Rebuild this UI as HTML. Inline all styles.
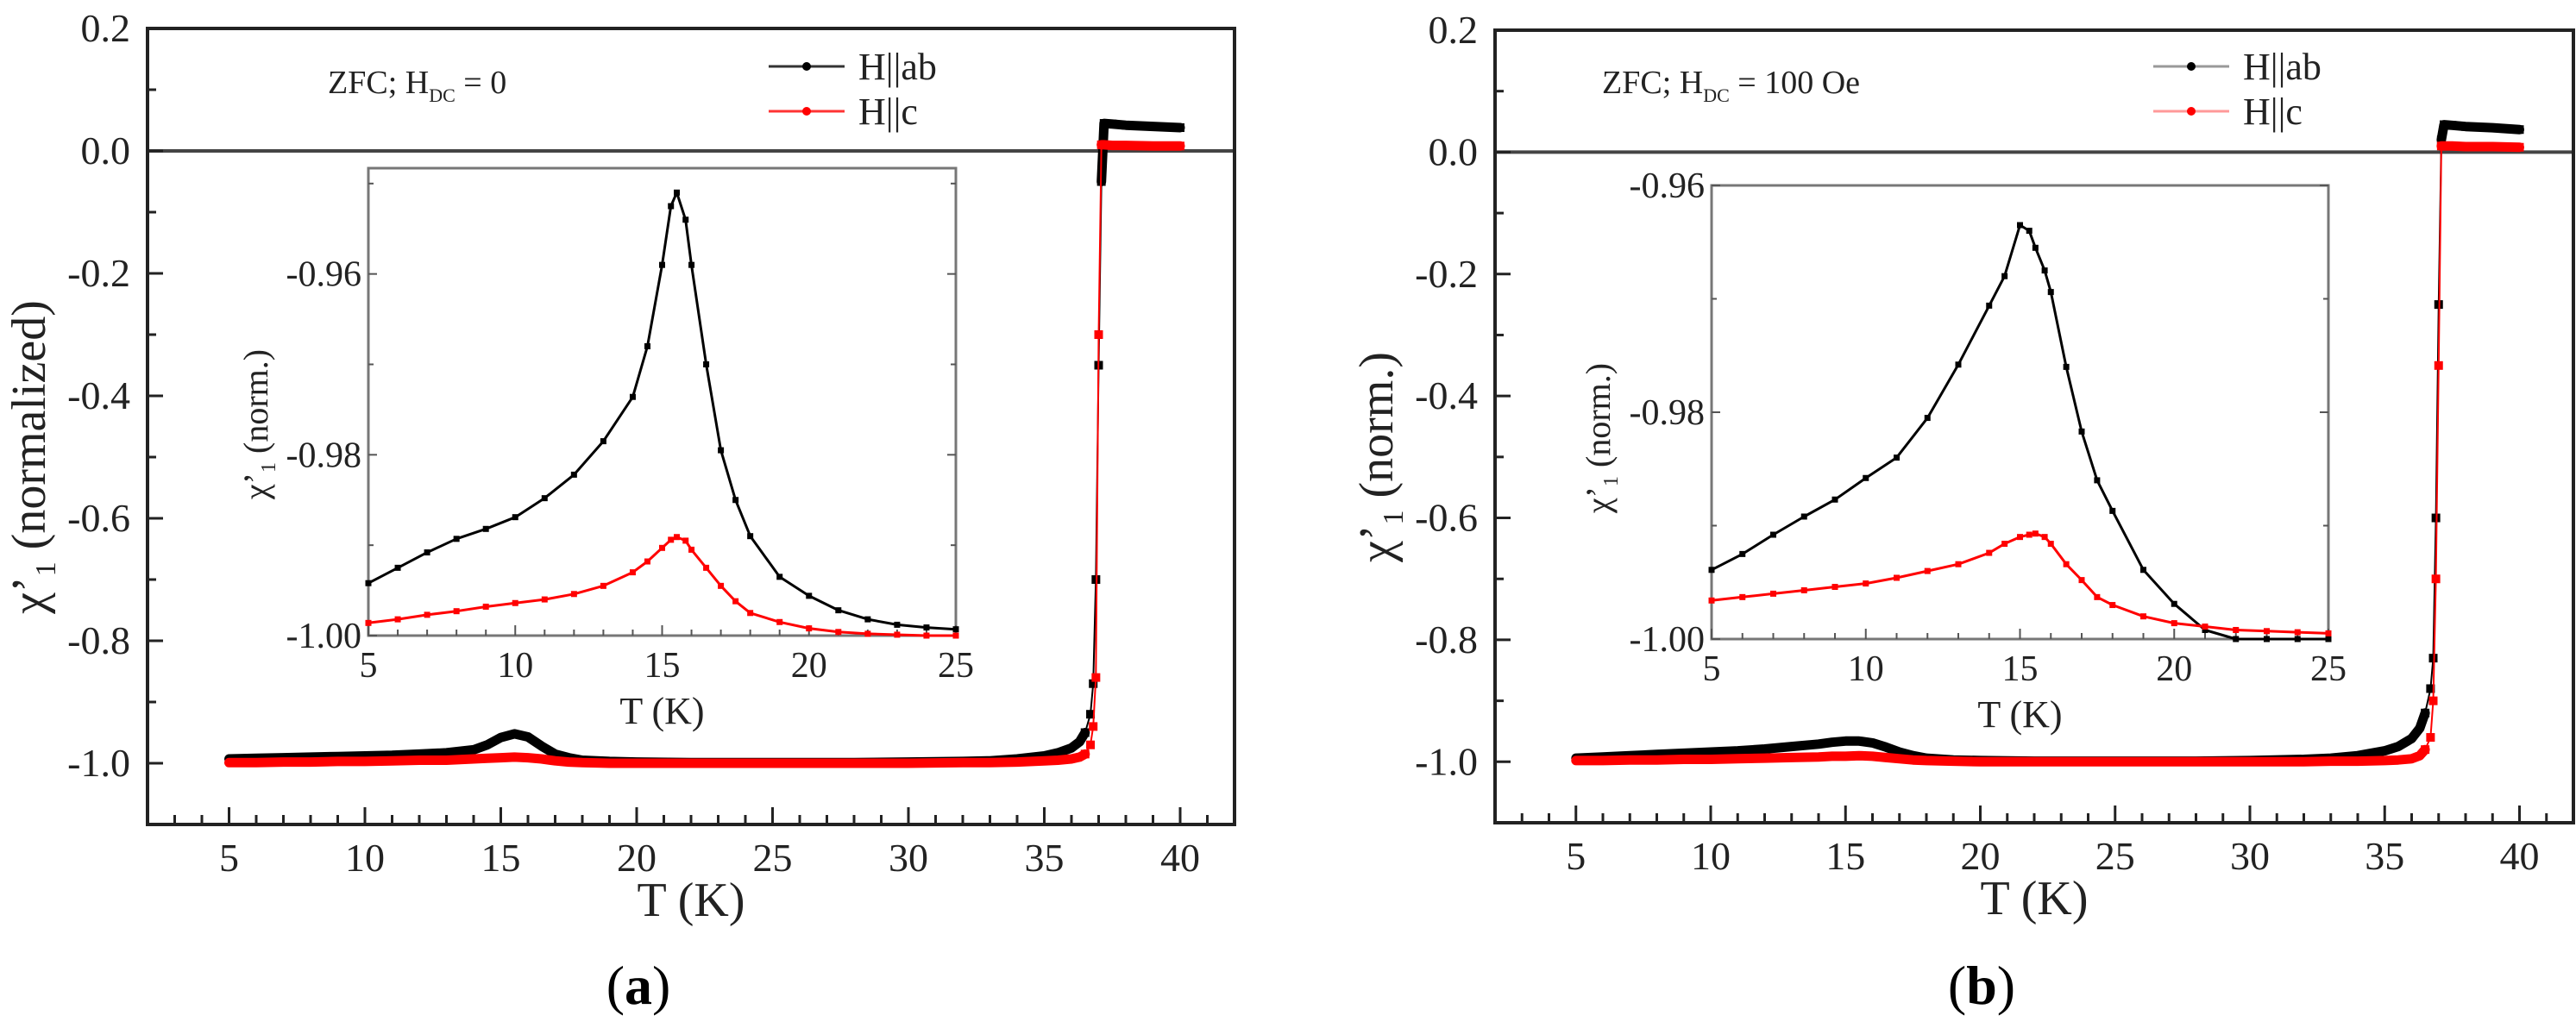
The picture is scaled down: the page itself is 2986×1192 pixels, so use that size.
<!DOCTYPE html>
<html><head><meta charset="utf-8"><title>chi'1 vs T</title>
<style>
html,body{margin:0;padding:0;background:#fff;}
svg{display:block;}
svg text{font-family:"Liberation Serif","DejaVu Serif",serif;}
</style></head>
<body>
<svg id="chart" width="2986" height="1192" viewBox="0 0 2986 1192" xmlns="http://www.w3.org/2000/svg" font-family="Liberation Serif, serif"></svg>
<script>
// ---- Panel (a) main data ----
const mainT = [5,6,7,8,9,10,11,12,13,14,14.5,15,15.5,16,16.5,17,17.5,18,19,20,22,24,26,28,30,32,33,34,35,35.5,36,36.3,36.5,36.7,36.8,36.9,37.0,37.1,37.2,37.5,38,39,40];
const mainAbA = [-0.993,-0.992,-0.991,-0.99,-0.989,-0.988,-0.987,-0.985,-0.983,-0.978,-0.97,-0.958,-0.952,-0.957,-0.972,-0.985,-0.991,-0.995,-0.997,-0.998,-0.999,-0.999,-0.999,-0.999,-0.998,-0.997,-0.996,-0.993,-0.988,-0.983,-0.975,-0.965,-0.95,-0.92,-0.87,-0.7,-0.35,-0.05,0.045,0.044,0.042,0.040,0.038];
const mainCA = [-0.999,-0.999,-0.998,-0.998,-0.997,-0.997,-0.996,-0.995,-0.995,-0.993,-0.992,-0.991,-0.99,-0.991,-0.993,-0.996,-0.998,-0.999,-1,-1,-1,-1,-1,-1,-1,-0.999,-0.999,-0.998,-0.996,-0.995,-0.993,-0.99,-0.985,-0.97,-0.94,-0.86,-0.3,0.01,0.01,0.009,0.009,0.008,0.008];
// ---- Panel (b) main data ----
const mainAbB = [-0.994,-0.992,-0.99,-0.988,-0.986,-0.984,-0.982,-0.979,-0.975,-0.971,-0.968,-0.966,-0.966,-0.969,-0.976,-0.984,-0.99,-0.994,-0.997,-0.998,-0.999,-0.999,-0.999,-0.999,-0.998,-0.996,-0.994,-0.99,-0.982,-0.975,-0.962,-0.945,-0.92,-0.88,-0.83,-0.6,-0.25,0.02,0.045,0.044,0.042,0.040,0.037];
const mainCB = [-0.998,-0.998,-0.997,-0.997,-0.996,-0.996,-0.995,-0.994,-0.993,-0.992,-0.991,-0.991,-0.99,-0.991,-0.993,-0.995,-0.997,-0.998,-0.999,-1,-1,-1,-1,-1,-1,-1,-0.999,-0.999,-0.998,-0.997,-0.995,-0.99,-0.98,-0.96,-0.9,-0.7,-0.35,0.01,0.01,0.01,0.009,0.009,0.008];
// ---- Inset data ----
const insetT = [5,6,7,8,9,10,11,12,13,14,14.5,15,15.3,15.5,15.8,16,16.5,17,17.5,18,19,20,21,22,23,24,25];
const insetAbA = [-0.9942,-0.9925,-0.9908,-0.9893,-0.9882,-0.9869,-0.9848,-0.9822,-0.9785,-0.9736,-0.968,-0.959,-0.9525,-0.951,-0.954,-0.959,-0.97,-0.9795,-0.985,-0.989,-0.9935,-0.9956,-0.9972,-0.9982,-0.9988,-0.9991,-0.9993];
const insetCA = [-0.9986,-0.9982,-0.9977,-0.9973,-0.9968,-0.9964,-0.996,-0.9954,-0.9945,-0.993,-0.9918,-0.9903,-0.9894,-0.9891,-0.9895,-0.9905,-0.9925,-0.9945,-0.9962,-0.9975,-0.9985,-0.9992,-0.9996,-0.9998,-0.9999,-1.0,-1.0];
const insetAbB = [-0.9939,-0.9925,-0.9908,-0.9892,-0.9877,-0.9858,-0.984,-0.9805,-0.9758,-0.9706,-0.968,-0.9635,-0.964,-0.9655,-0.9675,-0.9694,-0.976,-0.9817,-0.986,-0.9887,-0.9939,-0.9969,-0.9992,-1.0,-1.0,-1.0,-1.0];
const insetCB = [-0.9966,-0.9963,-0.996,-0.9957,-0.9954,-0.9951,-0.9946,-0.994,-0.9934,-0.9924,-0.9916,-0.991,-0.9908,-0.9907,-0.991,-0.9916,-0.9934,-0.9948,-0.9963,-0.997,-0.998,-0.9986,-0.9989,-0.9992,-0.9993,-0.9994,-0.9995];
// ---- Tick labels ----
const mainXTicks = [5,10,15,20,25,30,35,40];
const mainYTicks = ["0.2","0.0","-0.2","-0.4","-0.6","-0.8","-1.0"];
const insetXTicks = [5,10,15,20,25];
const insetYTicksA = ["-0.96","-0.98","-1.00"];
const insetYTicksB = ["-0.96","-0.98","-1.00"];

const svg = document.getElementById('chart');
const NS = 'http://www.w3.org/2000/svg';
const FONT = '"Liberation Serif", "DejaVu Serif", serif';
function mk(tag, attrs, parent){
  const e = document.createElementNS(NS, tag);
  for (const k in attrs) e.setAttribute(k, attrs[k]);
  if (tag === 'text') e.style.fontFamily = FONT;
  (parent||svg).appendChild(e);
  return e;
}

function drawPanel(p){
  const g = mk('g', {});
  
  
  const X = v => p.L + (v - 2) / 40 * (p.R - p.L);
  const Y = v => p.T + (0.2 - v) / 1.3 * (p.B - p.T);

  const zl = mk('line', {x1:p.L, x2:p.R, y1:Y(0), y2:Y(0), stroke:'#444', 'stroke-width':4}, g);
  
  

  for (let t = 3; t <= 41; t++){
    const major = t % 5 === 0;
    const tk = mk('line', {x1:X(t), x2:X(t), y1:p.B, y2:p.B-(major?20:11), stroke:'#222', 'stroke-width':3}, g);
    
    
  }
  mainXTicks.forEach(t => {
    const tx = mk('text', {x:X(t), y:p.B+54, 'font-size':46, 'text-anchor':'middle', fill:'#222'}, g);
    tx.textContent = t;
    
    
  });
  for (let i = 0; i <= 13; i++){
    const v = 0.2 - i * 0.1;
    const major = i % 2 === 0;
    const tk = mk('line', {x1:p.L, x2:p.L+(major?18:10), y1:Y(v), y2:Y(v), stroke:'#222', 'stroke-width':3}, g);
    
    
  }
  mainYTicks.forEach(s => {
    const tx = mk('text', {x:p.L-20, y:Y(parseFloat(s))+15, 'font-size':46, 'text-anchor':'end', fill:'#222'}, g);
    tx.textContent = s;
    
    
  });
  const fr = mk('rect', {x:p.L, y:p.T, width:p.R-p.L, height:p.B-p.T, fill:'none', stroke:'#222', 'stroke-width':4}, g);
  
  

  [[p.ab,'#000','series-h-ab'],[p.c,'#f00','series-h-c']].forEach(([arr,col,nm]) => {
    const all = mainT.map((t,i) => [X(t), Y(arr[i]), t]);
    const str = a => a.map(q => q[0].toFixed(1)+','+q[1].toFixed(1)).join(' ');
    const low = all.filter(q => q[2] <= 36.6);
    const high = all.filter(q => q[2] >= 37.1);
    [low, high].forEach(seg => {
      const band = mk('polyline', {points:str(seg), fill:'none', stroke:col, 'stroke-width':11, 'stroke-linejoin':'round', 'stroke-linecap':'round'}, g);
      
      
    });
    const ln = mk('polyline', {points:str(all), fill:'none', stroke:col, 'stroke-width':2}, g);
    
    
    all.forEach(q => {
      if (q[2] < 36.5) return;
      const m = mk('rect', {x:q[0]-5, y:q[1]-5, width:10, height:10, fill:col}, g);
      
      
    });
  });

  const xl = mk('text', {x:(p.L+p.R)/2, y:p.B+106, 'font-size':56, 'text-anchor':'middle', fill:'#222'}, g);
  xl.textContent = 'T (K)';
  
  
  const yl = mk('text', {transform:'translate('+p.ylx+',530) rotate(-90)', 'font-size':56, 'text-anchor':'middle', fill:'#222'}, g);
  yl.innerHTML = 'χ\u2019<tspan font-size="34" dy="12">1</tspan><tspan dy="-12"> ' + p.ytitle + '</tspan>';
  
  
  const pl = mk('text', {x:p.lblx, y:1164, 'font-size':64, 'text-anchor':'middle', fill:'#000'}, g);
  pl.innerHTML = '(<tspan font-weight="bold">' + p.id + '</tspan>)';
  
  
  const an = mk('text', {x:p.annx, y:108, 'font-size':38, fill:'#222'}, g);
  an.innerHTML = 'ZFC; H<tspan font-size="22" dy="10">DC</tspan><tspan dy="-10"> = ' + p.field + '</tspan>';
  
  

  [['H||ab', p.legAbLine, '#000', 77, 'legend-entry-h-ab'], ['H||c', p.legCLine, '#f00', 129, 'legend-entry-h-c']].forEach(([txt, lc, mc, y, nm]) => {
    const lg = mk('g', {}, g);
    
    
    mk('line', {x1:p.legX, x2:p.legX+88, y1:y, y2:y, stroke:lc, 'stroke-width':3}, lg);
    mk('circle', {cx:p.legX+44, cy:y, r:5, fill:mc}, lg);
    const t = mk('text', {x:p.legX+104, y:y+15, 'font-size':44, fill:'#222'}, lg);
    t.textContent = txt;
  });

  const I = p.inset;
  const ig = mk('g', {}, g);
  
  
  const IX = v => I.L + (v - 5) / 20 * (I.R - I.L);
  const IY = v => I.B - (v - (-1.0)) / (I.top - (-1.0)) * (I.B - I.T);
  mk('rect', {x:I.L, y:I.T, width:I.R-I.L, height:I.B-I.T, fill:'#fff', stroke:'#777', 'stroke-width':3}, ig);
  for (let t = 5; t <= 25; t++){
    const major = t % 5 === 0;
    const tk = mk('line', {x1:IX(t), x2:IX(t), y1:I.B, y2:I.B-(major?12:7), stroke:'#555', 'stroke-width':2}, ig);
    
    
  }
  for (let k = 0; k <= 5; k++){
    const v = -1.0 + k * 0.01;
    if (v > I.top + 1e-9) break;
    const major = k % 2 === 0;
    [[I.L, 1], [I.R, -1]].forEach(([x0, d]) => {
      const tk = mk('line', {x1:x0, x2:x0+d*(major?10:6), y1:IY(v), y2:IY(v), stroke:'#555', 'stroke-width':2}, ig);
      
      
    });
  }
  insetXTicks.forEach(t => {
    const tx = mk('text', {x:IX(t), y:I.B+48, 'font-size':42, 'text-anchor':'middle', fill:'#222'}, ig);
    tx.textContent = t;
    
    
  });
  I.yt.forEach(s => {
    const tx = mk('text', {x:I.L-8, y:IY(parseFloat(s))+14, 'font-size':42, 'text-anchor':'end', fill:'#222'}, ig);
    tx.textContent = s;
    
    
  });
  const ixl = mk('text', {x:(I.L+I.R)/2, y:I.B+102, 'font-size':44, 'text-anchor':'middle', fill:'#222'}, ig);
  ixl.textContent = 'T (K)';
  
  
  const iyl = mk('text', {transform:'translate('+I.ylx+','+I.yly+') rotate(-90)', 'font-size':40, 'text-anchor':'middle', fill:'#222'}, ig);
  iyl.innerHTML = 'χ\u2019<tspan font-size="24" dy="9">1</tspan><tspan dy="-9"> (norm.)</tspan>';
  
  
  [[I.ab,'#000','inset-series-h-ab'],[I.c,'#f00','inset-series-h-c']].forEach(([arr,col,nm]) => {
    const pts = insetT.map((t,i) => IX(t).toFixed(1)+','+IY(arr[i]).toFixed(1)).join(' ');
    const ln = mk('polyline', {points:pts, fill:'none', stroke:col, 'stroke-width':3, 'stroke-linejoin':'round'}, ig);
    
    
    insetT.forEach((t,i) => {
      const m = mk('rect', {x:IX(t)-3.5, y:IY(arr[i])-3.5, width:7, height:7, fill:col}, ig);
      
      
    });
  });
}

drawPanel({id:'a', L:171, R:1431, T:33, B:956, ab:mainAbA, c:mainCA, ylx:52, ytitle:'(normalized)', lblx:740,
  annx:380, field:'0', legX:891, legAbLine:'#333', legCLine:'#f33',
  inset:{L:427, R:1108, T:195, B:737, top:-0.9483, ab:insetAbA, c:insetCA, yt:insetYTicksA, ylx:310, yly:492}});
drawPanel({id:'b', L:1733, R:2983, T:35, B:954, ab:mainAbB, c:mainCB, ylx:1614, ytitle:'(norm.)', lblx:2297,
  annx:1857, field:'100 Oe', legX:2496, legAbLine:'#999', legCLine:'#f99',
  inset:{L:1984, R:2699, T:215, B:741, top:-0.96, ab:insetAbB, c:insetCB, yt:insetYTicksB, ylx:1866, yly:508}});
</script>
</body></html>
